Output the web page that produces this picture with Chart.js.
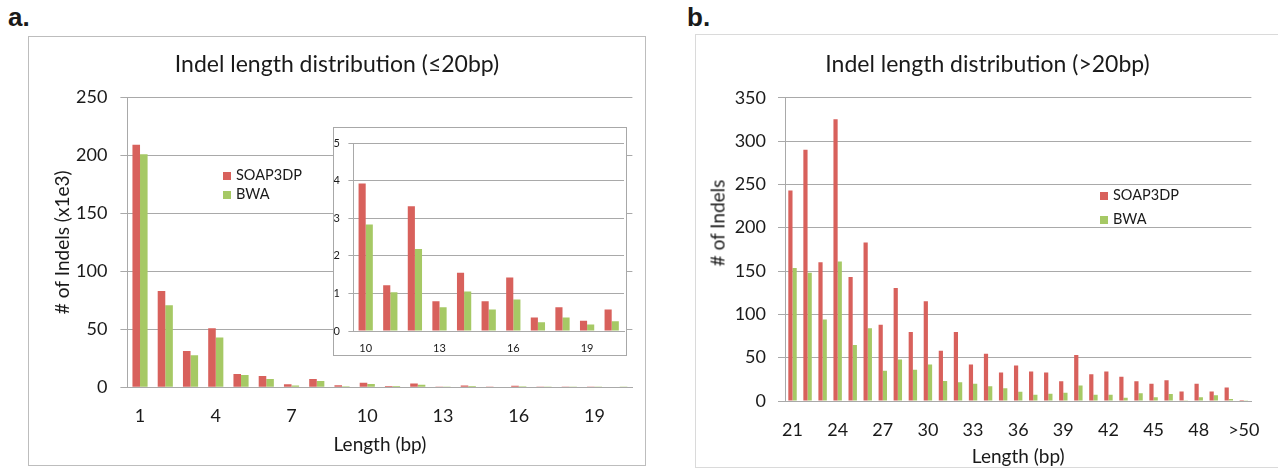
<!DOCTYPE html>
<html>
<head>
<meta charset="utf-8">
<title>Indel length distribution</title>
<script src="https://cdn.jsdelivr.net/npm/chart.js@4.4.0/dist/chart.umd.min.js"></script>
<style>
  body { margin: 0; width: 1278px; height: 470px; background: #fff; position: relative; overflow: hidden;
         font-family: Lato, "Open Sans", sans-serif; color: #1a1a1a; }
  .abs { position: absolute; }
  .box { position: absolute; box-sizing: border-box; border: 1px solid #c4c4c4; background: #fff; }
  .panel { position: absolute; font: bold 26px "Liberation Sans", Arial, sans-serif; line-height: 26px; }
  .title { position: absolute; font-size: 23px; line-height: 28px; text-align: center; white-space: nowrap; }
  .legend { position: absolute; font-size: 14.5px; line-height: 19px; white-space: nowrap; }
  .legend span { display: inline-block; width: 8px; height: 8px; margin-right: 5px; vertical-align: 0px; }
  .ytitle { position: absolute; font-size: 19px; white-space: nowrap; transform: translate(-50%, -50%) rotate(-90deg); }
  canvas { position: absolute; }
</style>
</head>
<body>

<div class="panel" style="left:8px;top:4px">a.</div>
<div class="panel" style="left:687px;top:4px">b.</div>

<div class="box" style="left:28px;top:36px;width:618px;height:430px;border-color:#bdbdbd"></div>
<div class="box" style="left:695px;top:34px;width:600px;height:434px;border-color:#dadada"></div>

<canvas id="mainA" width="619" height="434" style="left:27px;top:36px"></canvas>

<div class="box" style="left:333px;top:127px;width:294px;height:229px;border-color:#a8a8a8"></div>
<canvas id="insetA" width="292" height="227" style="left:334px;top:128px"></canvas>

<canvas id="chartB" width="582" height="435" style="left:696px;top:35px"></canvas>

<div class="title" style="left:28px;top:49px;width:618px">Indel length distribution (≤20bp)</div>
<div class="title" style="left:695px;top:49px;width:585px">Indel length distribution (&gt;20bp)</div>
<div class="ytitle" style="left:717px;top:223px"># of Indels</div>

<div class="legend" style="left:223px;top:165px">
  <div><span style="background:#d8615c"></span>SOAP3DP</div>
  <div><span style="background:#a6c965"></span>BWA</div>
</div>
<div class="legend" style="left:1100px;top:183px;line-height:23.5px">
  <div><span style="background:#d8615c"></span>SOAP3DP</div>
  <div><span style="background:#a6c965"></span>BWA</div>
</div>

<script>
// panel a: indels up to 20bp, counts in thousands
const lengthsA = ['1', '2', '3', '4', '5', '6', '7', '8', '9', '10',
                  '11', '12', '13', '14', '15', '16', '17', '18', '19', '20'];
const soapA = [209, 83, 31.4, 50.8, 11.5, 9.8, 2.6, 7.2, 1.8, 3.92,
               1.22, 3.32, 0.79, 1.55, 0.79, 1.42, 0.36, 0.63, 0.27, 0.57];
const bwaA = [201, 70.7, 27.7, 43, 10.6, 7.2, 1.5, 5.5, 0.9, 2.83,
              1.03, 2.18, 0.63, 1.05, 0.57, 0.84, 0.23, 0.36, 0.17, 0.26];
// the inset zooms in on lengths 10..20
const insetStart = lengthsA.indexOf('10');

// panel b: indels longer than 20bp, raw counts
const lengthsB = ['21', '22', '23', '24', '25', '26', '27', '28', '29', '30',
                  '31', '32', '33', '34', '35', '36', '37', '38', '39', '40',
                  '41', '42', '43', '44', '45', '46', '47', '48', '49', '50', '>50'];
const soapB = [243, 290, 160, 325, 143, 183, 88, 130.5, 79.5, 115,
               58, 79.5, 42, 54.5, 33, 41, 34, 33, 22.7, 53,
               31, 34, 28, 22.7, 20, 24, 11, 20, 11, 15.7, 1.2];
const bwaB = [153.6, 148, 94, 161, 64.5, 84, 35, 48, 36, 42,
              23, 21.5, 20, 17, 14.6, 10.8, 7.3, 8.4, 9.6, 18,
              7.3, 7.3, 3.8, 9, 4.4, 8, 1, 4.4, 6.5, 2.4, 0.3];

const RED = '#d8615c';
const GREEN = '#a6c965';
const GRID = '#a9a9a9';
const INK = '#1a1a1a';

Chart.defaults.font.family = 'Lato, "Open Sans", sans-serif';
Chart.defaults.color = INK;
Chart.defaults.animation = false;

function barData(labels, soap, bwa, catPct) {
  return {
    labels: labels,
    datasets: [
      { label: 'SOAP3DP', data: soap, backgroundColor: RED, categoryPercentage: catPct, barPercentage: 1 },
      { label: 'BWA', data: bwa, backgroundColor: GREEN, categoryPercentage: catPct, barPercentage: 1 }
    ]
  };
}

function everyThird(labels) {
  return (value, index) => (index % 3 === 0 ? labels[index] : '');
}

const noPlugins = { legend: { display: false }, tooltip: { enabled: false } };

new Chart(document.getElementById('mainA'), {
  type: 'bar',
  data: barData(lengthsA, soapA, bwaA, 0.6),
  options: {
    responsive: false,
    layout: { padding: { top: 61.3, right: 13.6, left: 0, bottom: 0 } },
    plugins: noPlugins,
    scales: {
      x: {
        grid: { display: false, drawTicks: false },
        border: { color: GRID },
        ticks: { autoSkip: false, maxRotation: 0, padding: 18, font: { size: 18 }, callback: everyThird(lengthsA) },
        title: { display: true, text: 'Length (bp)', font: { size: 19 }, padding: { top: 0, bottom: 13.6 } },
        afterFit: s => { s.height = 82.7; }
      },
      y: {
        min: 0,
        max: 250,
        ticks: { stepSize: 50, padding: 13, font: { size: 18 } },
        grid: { color: GRID, tickLength: 7 },
        border: { color: GRID },
        title: { display: true, text: '# of Indels (x1e3)', font: { size: 19 }, padding: { top: 24.6, bottom: 0 } },
        afterFit: s => { s.width = 100.4; }
      }
    }
  }
});

const insetLabels = lengthsA.slice(insetStart);
new Chart(document.getElementById('insetA'), {
  type: 'bar',
  data: barData(insetLabels, soapA.slice(insetStart), bwaA.slice(insetStart), 0.58),
  options: {
    responsive: false,
    layout: { padding: { top: 8.7, right: 2, left: 0, bottom: 0 } },
    plugins: noPlugins,
    scales: {
      x: {
        grid: { display: false, drawTicks: false },
        border: { color: GRID },
        ticks: { autoSkip: false, maxRotation: 0, padding: 10.4, font: { size: 11 }, callback: everyThird(insetLabels) },
        afterFit: s => { s.height = 24; }
      },
      y: {
        min: 0,
        max: 5,
        ticks: { stepSize: 1, padding: 8.4, font: { size: 11 } },
        grid: { color: GRID, tickLength: 5 },
        border: { color: GRID },
        afterFit: s => { s.width = 19.4; }
      }
    }
  }
});

new Chart(document.getElementById('chartB'), {
  type: 'bar',
  data: barData(lengthsB, soapB, bwaB, 0.56),
  options: {
    responsive: false,
    layout: { padding: { top: 62.7, right: 18.4, left: 0, bottom: 0 } },
    plugins: noPlugins,
    scales: {
      x: {
        grid: { display: false, drawTicks: false },
        border: { color: GRID },
        ticks: { autoSkip: false, maxRotation: 0, padding: 18.2, font: { size: 18 }, callback: everyThird(lengthsB) },
        title: { display: true, text: 'Length (bp)', font: { size: 19 }, padding: { top: 0, bottom: 1.6 } },
        afterFit: s => { s.height = 69; }
      },
      y: {
        min: 0,
        max: 350,
        ticks: { stepSize: 50, padding: 12, font: { size: 18 } },
        grid: { color: GRID, tickLength: 7 },
        border: { color: GRID },
        afterFit: s => { s.width = 89; }
      }
    }
  }
});
</script>
</body>
</html>
